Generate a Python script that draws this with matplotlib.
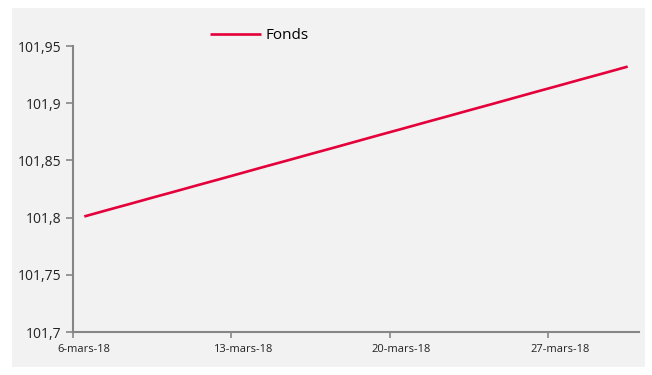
import numpy as np
import matplotlib.pyplot as plt
import matplotlib.dates as mdates
from matplotlib.patches import Rectangle
import datetime as dt

# daily fund values, 6 to 30 March 2018
days = [dt.date(2018, 3, d) for d in range(6, 31)]
fonds = [101.8010, 101.8065, 101.8119, 101.8174, 101.8228, 101.8283, 101.8337,
         101.8392, 101.8447, 101.8501, 101.8556, 101.8610, 101.8665, 101.8720,
         101.8774, 101.8829, 101.8883, 101.8938, 101.8992, 101.9047, 101.9102,
         101.9156, 101.9211, 101.9265, 101.9320]

y_ticks = [101.7, 101.75, 101.8, 101.85, 101.9, 101.95]
y_labels = ['101,7', '101,75', '101,8', '101,85', '101,9', '101,95']
x_ticks = [dt.date(2018, 3, d) for d in (6, 13, 20, 27)]
x_labels = ['6-mars-18', '13-mars-18', '20-mars-18', '27-mars-18']

plt.rcParams['font.family'] = ['Open Sans', 'DejaVu Sans']
bg = '#f2f2f2'

fig = plt.figure(figsize=(6.52, 3.75), dpi=100)
fig.patch.set_facecolor('white')
fig.patches.append(Rectangle((12 / 652, 8 / 375), 633 / 652, 359 / 375,
                             transform=fig.transFigure, facecolor=bg,
                             edgecolor='none', zorder=-1))

ax = fig.add_axes([73 / 652, 43 / 375, 566 / 652, 286 / 375])
ax.set_facecolor(bg)
ax.set_zorder(2)

# Excel date axis: points (and labels) sit in the middle of each day
xs = mdates.date2num(days) + 0.5
ax.plot(xs, fonds, color='#e4003a', lw=1.9, label='Fonds', solid_capstyle='butt')

ax.set_ylim(101.7, 101.95)
ax.set_yticks(y_ticks)
ax.set_yticklabels(y_labels, fontsize=10, color='#222222')
ax.set_xlim(mdates.date2num(dt.date(2018, 3, 6)), mdates.date2num(dt.date(2018, 3, 31)))
tick_pos = mdates.date2num(x_ticks)
ax.set_xticks(tick_pos)
ax.set_xticklabels([])
ax.set_xticks(tick_pos + 0.5, minor=True)
ax.set_xticklabels(x_labels, minor=True, fontsize=8, color='#222222')

for s in ('top', 'right'):
    ax.spines[s].set_visible(False)
for s in ('left', 'bottom'):
    ax.spines[s].set_color('#868686')
    ax.spines[s].set_linewidth(1.5)
ax.tick_params(axis='both', colors='#868686', length=5, width=1.2, labelcolor='#222222')
ax.tick_params(axis='x', which='major', length=4)
ax.tick_params(axis='x', which='minor', length=0, pad=9, labelcolor='#222222')

leg = ax.legend(loc='upper left', bbox_to_anchor=(0.218, 1.11), frameon=False,
                fontsize=11, handlelength=3.3, handletextpad=0.3)

fig.savefig('out.png', dpi=100, facecolor='white')
